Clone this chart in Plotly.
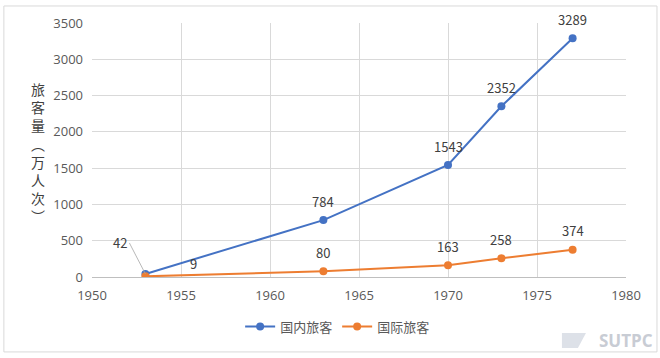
import plotly.graph_objects as go

years = [1953, 1963, 1970, 1973, 1977]
domestic = [42, 784, 1543, 2352, 3289]
international = [9, 80, 163, 258, 374]
series_names = ["国内旅客", "国际旅客"]
y_title = "旅客量（万人次）"

BLUE = "#4472C4"
ORANGE = "#ED7D31"
TXT = "#404040"
FONT = "Noto Sans CJK SC, Open Sans, sans-serif"

fig = go.Figure()
fig.add_trace(go.Scatter(x=years, y=domestic, name=series_names[0], mode="lines+markers",
                         line=dict(color=BLUE, width=2), marker=dict(size=8, color=BLUE)))
fig.add_trace(go.Scatter(x=years, y=international, name=series_names[1], mode="lines+markers",
                         line=dict(color=ORANGE, width=2), marker=dict(size=8, color=ORANGE)))

# data labels
for i, (x, y) in enumerate(zip(years, domestic)):
    if i == 0:
        fig.add_annotation(x=x, y=y, text=str(y), showarrow=True, arrowhead=0, arrowwidth=0.8,
                           arrowcolor="#A6A6A6", ax=-16, ay=-31, xanchor="right",
                           font=dict(size=13, color=TXT, family=FONT))
    else:
        fig.add_annotation(x=x, y=y, text=str(y), showarrow=False, yshift=19,
                           font=dict(size=13, color=TXT, family=FONT))
for i, (x, y) in enumerate(zip(years, international)):
    if i == 0:
        fig.add_annotation(x=x, y=y, text=str(y), showarrow=False, xshift=48, yshift=13,
                           font=dict(size=13, color=TXT, family=FONT))
    else:
        fig.add_annotation(x=x, y=y, text=str(y), showarrow=False, yshift=19,
                           font=dict(size=13, color=TXT, family=FONT))

# vertical y-axis title
vert = "<br>".join(list(y_title.replace("（", "︵").replace("）", "︶")))
fig.add_annotation(xref="paper", yref="paper", x=-0.102, y=0.49, text=vert, showarrow=False,
                   xanchor="center", yanchor="middle",
                   font=dict(size=14, color=TXT, family=FONT))

# watermark
fig.add_annotation(xref="paper", yref="paper", x=1.055, y=-0.25, text="<b>SUTPC</b>", showarrow=False,
                   xanchor="right", yanchor="middle", font=dict(size=17, color="#C8CCD4", family="Open Sans"))
fig.add_shape(type="path", xref="paper", yref="paper",
              path="M 0.88 -0.22 L 0.925 -0.22 L 0.91 -0.28 L 0.88 -0.28 Z",
              fillcolor="#DDE1E8", line=dict(width=0))

# outer border
fig.add_shape(type="rect", xref="paper", yref="paper", x0=-0.165, x1=1.058, y0=-0.295, y1=1.067,
              line=dict(color="#D9D9D9", width=1))

fig.update_layout(
    width=660, height=358,
    margin=dict(l=92, r=34, t=23, b=81),
    paper_bgcolor="white", plot_bgcolor="white",
    font=dict(family=FONT, color="#595959", size=13),
    showlegend=True,
    legend=dict(orientation="h", x=0.46, xanchor="center", y=-0.195, yanchor="middle",
                font=dict(size=13, color="#595959", family=FONT), itemwidth=30),
    xaxis=dict(range=[1950, 1980], dtick=5, tick0=1950, showgrid=True, gridcolor="#D9D9D9",
               zeroline=False, showline=True, linecolor="#BFBFBF", ticks="", ticklabelstandoff=6,
               tickfont=dict(size=13, color="#595959", family="Open Sans")),
    yaxis=dict(range=[0, 3500], dtick=500, showgrid=True, gridcolor="#D9D9D9",
               zeroline=False, showline=False, ticks="", ticklabelstandoff=8,
               tickfont=dict(size=13, color="#595959", family="Open Sans")),
)

fig.write_html("out.html", config={"displayModeBar": False},
               post_script="document.body.style.margin='0';")
